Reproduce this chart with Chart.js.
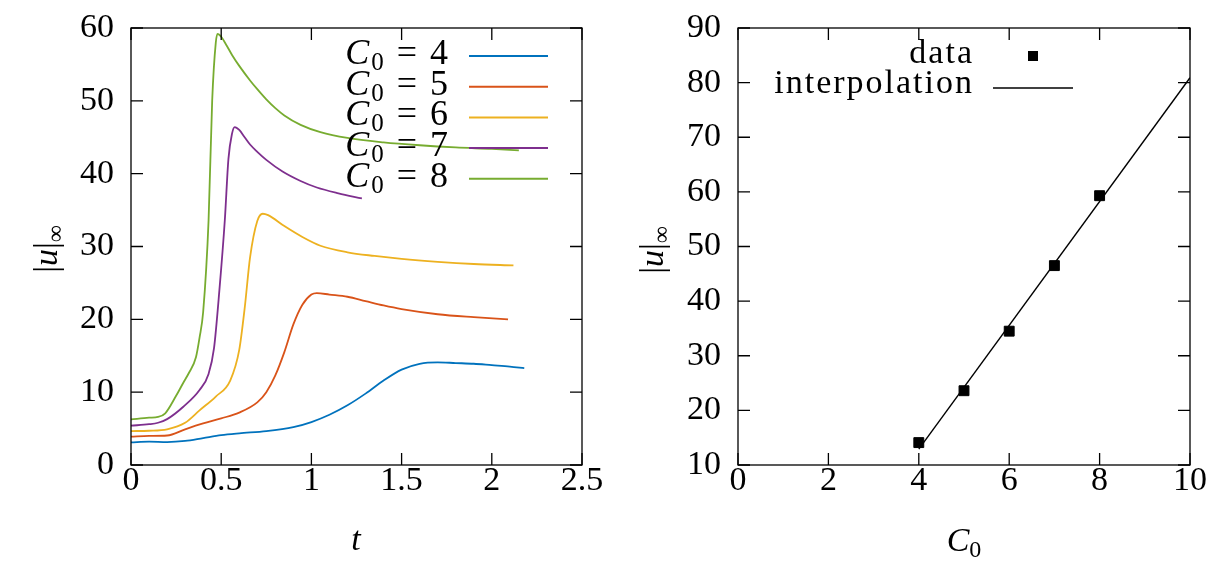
<!DOCTYPE html>
<html>
<head>
<meta charset="utf-8">
<script src="https://cdn.jsdelivr.net/npm/chart.js@4.4.1/dist/chart.umd.min.js"></script>
<style>
  html, body { margin: 0; padding: 0; background: #fff; }
  #wrap { position: relative; width: 1212px; height: 562px; }
  .panel { position: absolute; top: 0; width: 606px; height: 562px; }
</style>
</head>
<body>
<div id="wrap">
  <div class="panel" style="left:0"><canvas id="time-chart"></canvas></div>
  <div class="panel" style="left:606px"><canvas id="peak-chart"></canvas></div>
</div>
<script>
// left panel: |u|_inf over time, one curve per C0
const c0Labels = ['4', '5', '6', '7', '8'];
const c0Colors = ['#0072bd', '#d95319', '#edb120', '#7e2f8e', '#77ac30'];

const t4 = [0, 0.1, 0.2, 0.3, 0.4, 0.5, 0.6, 0.75, 0.9, 1.0, 1.1, 1.2, 1.3, 1.4, 1.5, 1.6, 1.7, 1.8, 1.9, 2.0, 2.1, 2.18];
const u4 = [3.1, 3.2, 3.15, 3.3, 3.7, 4.1, 4.35, 4.65, 5.2, 5.9, 6.9, 8.2, 9.8, 11.6, 13.1, 13.9, 14.1, 14.0, 13.9, 13.7, 13.5, 13.3];

const t5 = [0, 0.1, 0.2, 0.3, 0.4, 0.5, 0.6, 0.7, 0.75, 0.8, 0.85, 0.9, 0.95, 1.0, 1.03, 1.1, 1.2, 1.3, 1.4, 1.5, 1.7, 1.9, 2.09];
const u5 = [3.9, 4.0, 4.05, 4.9, 5.7, 6.4, 7.2, 8.6, 10.0, 12.3, 15.5, 19.3, 22.0, 23.4, 23.6, 23.4, 23.1, 22.5, 21.9, 21.4, 20.7, 20.3, 20.0];

const t6 = [0, 0.1, 0.2, 0.3, 0.38, 0.47, 0.55, 0.6, 0.63, 0.66, 0.7, 0.73, 0.76, 0.85, 0.95, 1.05, 1.2, 1.35, 1.5, 1.7, 1.9, 2.12];
const u6 = [4.66, 4.7, 4.9, 5.8, 7.5, 9.4, 11.6, 15.8, 21.5, 28.5, 33.5, 34.5, 34.3, 32.8, 31.3, 30.1, 29.2, 28.7, 28.3, 27.9, 27.6, 27.4];

const t7 = [0, 0.1, 0.15, 0.2, 0.29, 0.38, 0.43, 0.46, 0.49, 0.52, 0.54, 0.56, 0.575, 0.6, 0.63, 0.66, 0.7, 0.75, 0.84, 0.94, 1.03, 1.15, 1.28];
const u7 = [5.4, 5.6, 5.8, 6.3, 8.0, 10.3, 12.5, 16, 24, 33.6, 42.0, 45.5, 46.4, 46.0, 45.0, 44.0, 43.0, 41.9, 40.3, 39.0, 38.1, 37.3, 36.6];

const t8 = [0, 0.1, 0.15, 0.19, 0.25, 0.29, 0.32, 0.36, 0.38, 0.4, 0.43, 0.45, 0.47, 0.48, 0.5, 0.53, 0.56, 0.6, 0.66, 0.7, 0.75, 0.8, 0.85, 0.94, 1.05, 1.2, 1.4, 1.6, 1.8, 2.0, 2.15];
const u8 = [6.26, 6.5, 6.6, 7.1, 9.5, 11.3, 12.6, 14.8, 17.5, 21, 33.6, 50, 58, 59.2, 58.8, 57.6, 56.3, 54.8, 52.8, 51.6, 50.2, 49.0, 48.0, 46.7, 45.7, 44.9, 44.3, 43.9, 43.6, 43.4, 43.2];

const timeSeries = [[t4, u4], [t5, u5], [t6, u6], [t7, u7], [t8, u8]];

// right panel: peak value against C0, plus linear fit
const peakC0 = [4, 5, 6, 7, 8];
const peakValues = [14.1, 23.6, 34.5, 46.5, 59.3];
const fitC0 = [4, 10];
const fitValues = [12.9, 80.9];

const SERIF = "'Liberation Serif', 'DejaVu Serif', serif";
const FS = 34;

function drawRun(ctx, parts, x, y, align) {
  // parts: [text, style, size, dy]
  const widths = parts.map(p => {
    ctx.font = p[1] + ' ' + p[2] + 'px ' + SERIF;
    return ctx.measureText(p[0]).width;
  });
  const total = widths.reduce((a, b) => a + b, 0);
  let cx = align === 'right' ? x - total : align === 'center' ? x - total / 2 : x;
  ctx.textAlign = 'left';
  ctx.textBaseline = 'alphabetic';
  ctx.fillStyle = '#000';
  parts.forEach((p, i) => {
    ctx.font = p[1] + ' ' + p[2] + 'px ' + SERIF;
    ctx.fillText(p[0], cx, y + p[3]);
    cx += widths[i];
  });
}

const uInf = [['|', 'normal', 34, 0], ['u', 'italic', 34, 0], ['|', 'normal', 34, 0], ['\u221E', 'normal', 24, 6]];

// box around the plot with gnuplot-like inward ticks on all four sides
const framePlugin = {
  id: 'frame',
  afterDraw(chart, args, opts) {
    const { ctx, chartArea: a, scales } = chart;
    ctx.save();
    ctx.strokeStyle = '#000';
    ctx.lineWidth = 1.3;
    ctx.strokeRect(a.left, a.top, a.right - a.left, a.bottom - a.top);
    ctx.beginPath();
    scales.x.ticks.forEach(t => {
      const px = scales.x.getPixelForValue(t.value);
      ctx.moveTo(px, a.bottom); ctx.lineTo(px, a.bottom - 12);
      ctx.moveTo(px, a.top); ctx.lineTo(px, a.top + 12);
    });
    scales.y.ticks.forEach(t => {
      const py = scales.y.getPixelForValue(t.value);
      ctx.moveTo(a.left, py); ctx.lineTo(a.left + 12, py);
      ctx.moveTo(a.right, py); ctx.lineTo(a.right - 12, py);
    });
    ctx.stroke();

    // axis titles
    ctx.save();
    ctx.translate(opts.yTitleX, opts.yTitleY);
    ctx.rotate(-Math.PI / 2);
    drawRun(ctx, uInf, 0, 0, 'center');
    ctx.restore();
    drawRun(ctx, opts.xTitle, opts.xTitleX, opts.xTitleY, 'center');

    if (opts.legend) opts.legend(chart, ctx);
    ctx.restore();
  }
};

const tickFont = { family: SERIF, size: FS };
const fmt = v => String(Math.round(v * 100) / 100);

// keep the plot box where the reference has it: drop the label overhang padding
const fitX = s => { s.height = 97; s.paddingLeft = 0; s.paddingRight = 0; };
const fitY = w => s => { s.width = w; s.paddingTop = 0; s.paddingBottom = 0; };

function leftLegend(chart, ctx) {
  ctx.letterSpacing = '2px';
  chart.data.datasets.forEach((ds, i) => {
    const ly = 56 + i * 30.7;
    drawRun(ctx, [['C', 'italic', 36, 0], ['0', 'normal', 25, 6], [' = ', 'normal', 36, 0], [c0Labels[i], 'normal', 36, 0]], 450, ly + 8, 'right');
    ctx.strokeStyle = ds.borderColor;
    ctx.lineWidth = 2;
    ctx.beginPath();
    ctx.moveTo(469, ly); ctx.lineTo(548, ly);
    ctx.stroke();
  });
  ctx.letterSpacing = '0px';
}

function rightLegend(chart, ctx) {
  ctx.letterSpacing = '2px';
  drawRun(ctx, [['data', 'normal', 34, 0]], 368, 63, 'right');
  drawRun(ctx, [['interpolation', 'normal', 34, 0]], 368, 93, 'right');
  ctx.letterSpacing = '0px';
  ctx.fillStyle = '#000';
  ctx.fillRect(422, 51, 10, 10);
  ctx.strokeStyle = '#000';
  ctx.lineWidth = 1.3;
  ctx.beginPath();
  ctx.moveTo(387, 88); ctx.lineTo(467, 88);
  ctx.stroke();
}

new Chart(document.getElementById('time-chart').getContext('2d'), {
  type: 'line',
  data: {
    datasets: timeSeries.map((s, i) => ({
      label: 'C0 = ' + c0Labels[i],
      data: s[0].map((t, k) => ({ x: t, y: s[1][k] })),
      borderColor: c0Colors[i],
      borderWidth: 1.8,
      pointRadius: 0,
      cubicInterpolationMode: 'monotone',
      fill: false,
    })),
  },
  options: {
    responsive: true,
    maintainAspectRatio: false,
    animation: false,
    layout: { padding: { top: 28, right: 24, left: 0, bottom: 0 } },
    plugins: {
      legend: { display: false },
      tooltip: { enabled: false },
      frame: {
        yTitleX: 57, yTitleY: 249,
        xTitle: [['t', 'italic', 34, 0]], xTitleX: 356, xTitleY: 550,
        legend: leftLegend,
      },
    },
    scales: {
      x: {
        type: 'linear', min: 0, max: 2.5,
        ticks: { stepSize: 0.5, font: tickFont, color: '#000', padding: -4, maxRotation: 0, callback: fmt },
        grid: { display: false, drawTicks: false },
        border: { display: false },
        afterFit: fitX,
      },
      y: {
        min: 0, max: 60,
        ticks: { stepSize: 10, font: tickFont, color: '#000', padding: 17, callback: fmt },
        grid: { display: false, drawTicks: false },
        border: { display: false },
        afterFit: fitY(131),
      },
    },
  },
  plugins: [framePlugin],
});

new Chart(document.getElementById('peak-chart').getContext('2d'), {
  type: 'scatter',
  data: {
    datasets: [
      {
        label: 'data',
        data: peakC0.map((c, i) => ({ x: c, y: peakValues[i] })),
        pointStyle: 'rect',
        pointRadius: 7,
        borderWidth: 1,
        backgroundColor: '#000',
        borderColor: '#000',
        showLine: false,
      },
      {
        label: 'interpolation',
        data: fitC0.map((c, i) => ({ x: c, y: fitValues[i] })),
        showLine: true,
        pointRadius: 0,
        borderColor: '#000',
        borderWidth: 1.4,
      },
    ],
  },
  options: {
    responsive: true,
    maintainAspectRatio: false,
    animation: false,
    layout: { padding: { top: 28, right: 22, left: 0, bottom: 0 } },
    plugins: {
      legend: { display: false },
      tooltip: { enabled: false },
      frame: {
        yTitleX: 57, yTitleY: 250,
        xTitle: [['C', 'italic', 34, 0], ['0', 'normal', 24, 6]], xTitleX: 358, xTitleY: 551,
        legend: rightLegend,
      },
    },
    scales: {
      x: {
        type: 'linear', min: 0, max: 10,
        ticks: { stepSize: 2, font: tickFont, color: '#000', padding: -4, maxRotation: 0, callback: fmt },
        grid: { display: false, drawTicks: false },
        border: { display: false },
        afterFit: fitX,
      },
      y: {
        min: 10, max: 90,
        ticks: { stepSize: 10, font: tickFont, color: '#000', padding: 17, callback: fmt },
        grid: { display: false, drawTicks: false },
        border: { display: false },
        afterFit: fitY(132),
      },
    },
  },
  plugins: [framePlugin],
});
</script>
</body>
</html>
